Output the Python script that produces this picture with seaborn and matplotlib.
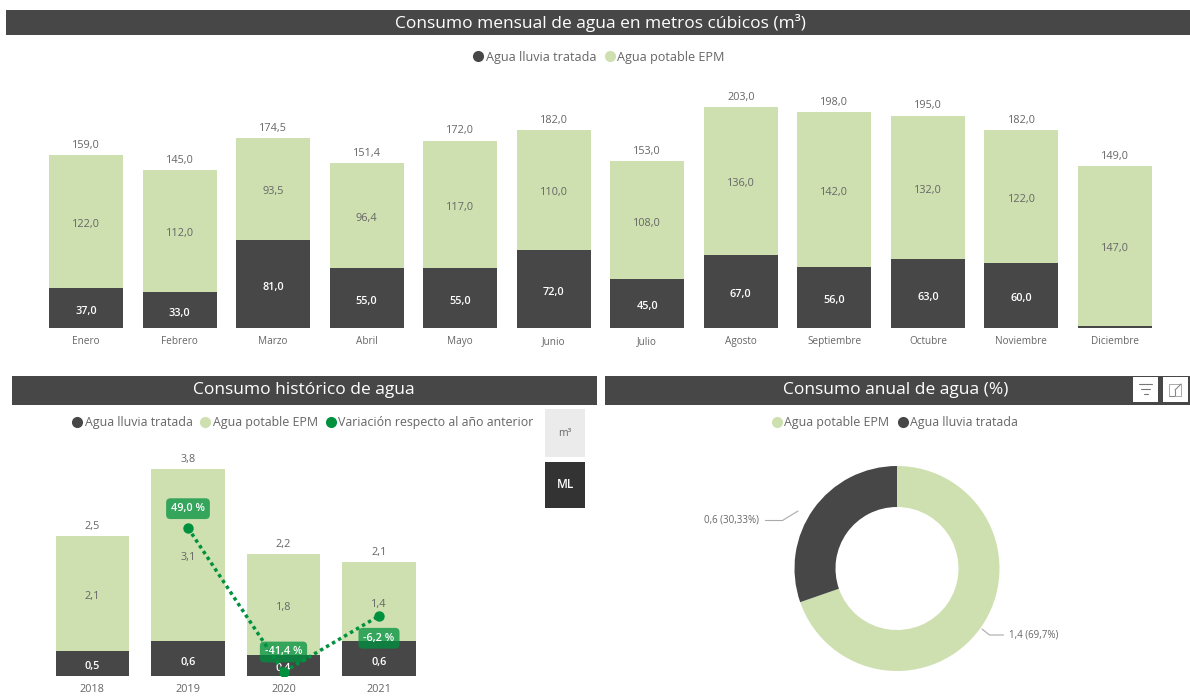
import numpy as np
import pandas as pd
import seaborn as sns
import matplotlib
matplotlib.use("Agg")
import matplotlib.pyplot as plt
from matplotlib.lines import Line2D
from matplotlib.patches import Rectangle

meses = ["Enero", "Febrero", "Marzo", "Abril", "Mayo", "Junio", "Julio", "Agosto",
         "Septiembre", "Octubre", "Noviembre", "Diciembre"]
lluvia_mes = [37.0, 33.0, 81.0, 55.0, 55.0, 72.0, 45.0, 67.0, 56.0, 63.0, 60.0, 2.0]
potable_mes = [122.0, 112.0, 93.5, 96.4, 117.0, 110.0, 108.0, 136.0, 142.0, 132.0, 122.0, 147.0]
anios = ["2018", "2019", "2020", "2021"]
lluvia_anio = [0.46, 0.63, 0.38, 0.63]
potable_anio = [2.08, 3.14, 1.84, 1.44]
variacion = [np.nan, 49.0, -41.4, -6.2]
dona_nombres = ["Agua potable EPM", "Agua lluvia tratada"]
dona_valores = [1.4, 0.6]
dona_pct = [69.67, 30.33]

DARK, LIGHT, GREEN, GREY = "#474747", "#CEE0B0", "#00913F", "#666666"
W, H = 1190, 696

sns.set_theme(style="white")
plt.rcParams["font.family"] = ["Open Sans", "DejaVu Sans"]

fig = plt.figure(figsize=(W / 100, H / 100), dpi=100, facecolor="white")


def rect(x0, y0, x1, y1):
    return [x0 / W, 1 - y1 / H, (x1 - x0) / W, (y1 - y0) / H]


def coma(v):
    return f"{v:.1f}".replace(".", ",")


# capa de pixeles para cabeceras, botones, lineas guia
bg = fig.add_axes([0, 0, 1, 1], zorder=0)
bg.set_xlim(0, W)
bg.set_ylim(H, 0)
bg.axis("off")


def header(x0, y0, x1, y1, text, cx, size):
    bg.add_patch(Rectangle((x0, y0), x1 - x0, y1 - y0, color=DARK, lw=0))
    bg.text(cx, (y0 + y1) / 2, text, color="white", fontsize=size, ha="center", va="center")


header(6, 10, 1190, 35, "Consumo mensual de agua en metros cúbicos (m³)", 600, 12.5)
header(12, 376, 597, 405, "Consumo histórico de agua", 304, 12.5)
header(604.5, 376, 1190, 405, "Consumo anual de agua (%)", 896, 12.5)


def stacked(ax, cats, low, high, width, tick_size, size):
    low, high = np.array(low), np.array(high)
    df = pd.DataFrame({"cat": cats, "low": low, "high": high, "total": low + high})
    sns.barplot(data=df, x="cat", y="total", color=LIGHT, saturation=1, width=width, ax=ax,
                zorder=2, linewidth=0, edgecolor="none")
    sns.barplot(data=df, x="cat", y="low", color=DARK, saturation=1, width=width, ax=ax,
                zorder=2, linewidth=0, edgecolor="none")
    sns.despine(ax=ax, left=True, bottom=True)
    ax.set_xlabel("")
    ax.set_ylabel("")
    ax.set_yticks([])
    ax.set_xlim(-0.5, len(cats) - 0.5)
    ax.patch.set_alpha(0)
    ax.tick_params(axis="x", length=0, pad=6, labelsize=tick_size, labelcolor=GREY)
    for i, r in df.iterrows():
        ax.annotate(coma(r.total), (i, r.total), xytext=(0, 8.0), textcoords="offset points",
                    ha="center", va="center_baseline", fontsize=size, color=GREY, zorder=6)
        ax.annotate(coma(r.high), (i, r.low + r.high / 2), xytext=(0, -1), textcoords="offset points",
                    ha="center", va="center_baseline", fontsize=size, color=GREY, zorder=6)
        if r.low > 0.2 if r.total < 10 else r.low > 10:
            ax.annotate(coma(r.low), (i, r.low / 2), xytext=(0, -1.4), textcoords="offset points",
                        ha="center", va="center_baseline", fontsize=size, color="white", zorder=6,
                        fontweight="semibold")


# grafico mensual
ax1 = fig.add_axes(rect(39.25, 80, 1161.75, 328), zorder=2)
stacked(ax1, meses, lluvia_mes, potable_mes, 0.79, 7.2, 7.8)
ax1.set_ylim(0, 248 / 1.0895)

# grafico historico
ax2 = fig.add_axes(rect(44.75, 440, 426.75, 676), zorder=2)
stacked(ax2, anios, lluvia_anio, potable_anio, 0.765, 7.8, 7.8)
ax2.set_ylim(0, 236 / 55)

ax3 = fig.add_axes(rect(44.75, 440, 426.75, 676), zorder=3)
ax3.patch.set_alpha(0)
var_df = pd.DataFrame({"pos": range(len(anios)), "var": variacion})
sns.lineplot(data=var_df, x="pos", y="var", color=GREEN, lw=2.5, linestyle=(0, (1, 1)),
             marker="o", markersize=7.5, markeredgewidth=0, ax=ax3, zorder=4)
ax3.set_xlim(-0.5, 3.5)
ax3.set_ylim(49 - (676 - 528) / 1.593, 49 + (528 - 440) / 1.593)
ax3.axis("off")
for pos, v, dy in zip(var_df["pos"], variacion, [0, 15, 15.5, -15]):
    if not np.isnan(v):
        ax3.annotate(f"{coma(v)} %", (pos, v), xytext=(0, dy), textcoords="offset points",
                     ha="center", va="center_baseline", fontsize=7.8, color="white", fontweight="semibold",
                     zorder=7,
                     bbox=dict(boxstyle="round,pad=0.45,rounding_size=0.4", fc=GREEN, ec="none", alpha=0.75))

# selector de unidades
bg.add_patch(Rectangle((545, 409), 40, 48, color="#EBEBEB", lw=0))
bg.text(565, 433, "m³", color=GREY, fontsize=7.5, ha="center", va="center")
bg.add_patch(Rectangle((545, 462), 40, 46, color="#333333", lw=0))
bg.text(565, 485, "ML", color="white", fontsize=8.5, ha="center", va="center", fontweight="semibold")

# botones
for x0 in (1132.5, 1162.5):
    bg.add_patch(Rectangle((x0, 377), 25.5, 25, color="white", lw=0, zorder=3))
for xa, xb, y in ((1139, 1152, 384), (1141, 1150, 389), (1143.5, 1147.5, 394)):
    bg.plot([xa, xb], [y, y], color="#777777", lw=0.8, zorder=4)
bg.plot([1169, 1175, 1175], [396, 396, 390], color="#888888", lw=0.8, zorder=4)
bg.plot([1169, 1169, 1175], [396, 384, 384], color="#AAAAAA", lw=0.7, zorder=4)
bg.plot([1175, 1181, 1181, 1175], [384, 384, 396, 396], color="#AAAAAA", lw=0.7, zorder=4)
bg.plot([1175, 1181], [390, 384], color="#888888", lw=0.8, zorder=4)

# dona
ax4 = fig.add_axes(rect(794.5, 466, 999.5, 671), zorder=2)
ax4.pie(dona_pct, colors=[LIGHT, DARK], startangle=90, counterclock=False, radius=1,
        wedgeprops=dict(width=0.4, lw=0))
ax4.set_xlim(-1, 1)
ax4.set_ylim(-1, 1)
ax4.set_aspect("auto")
bg.plot([765.5, 782.5, 798], [520.5, 520.5, 511], color="#AAAAAA", lw=0.8)
bg.plot([982, 989.5, 1003.5], [629, 635, 635], color="#AAAAAA", lw=0.8)
bg.text(732, 520.5, f"{coma(dona_valores[1])} ({dona_pct[1]:.2f}%)".replace("30.33", "30,33"),
        fontsize=7.0, color=GREY, ha="center", va="center")
bg.text(1034, 635, f"{coma(dona_valores[0])} (69,7%)", fontsize=7.0, color=GREY, ha="center", va="center")


# leyendas
def legend(names, cols, cx, cy, size):
    hs = [Line2D([], [], ls="", marker="o", ms=8, mew=0, color=c) for c in cols]
    fig.legend(hs, names, loc="center", bbox_to_anchor=(cx / W, 1 - cy / H), ncol=len(names), frameon=False,
               fontsize=size, labelcolor=GREY, handletextpad=0.05, columnspacing=0.5, borderpad=0, handlelength=1.1)


legend(["Agua lluvia tratada", "Agua potable EPM"], [DARK, LIGHT], 598, 57, 9.1)
legend(["Agua lluvia tratada", "Agua potable EPM", "Variación respecto al año anterior"], [DARK, LIGHT, GREEN], 302, 422.5, 8.9)
legend(dona_nombres, [LIGHT, DARK], 894, 422.5, 8.9)

fig.savefig("out.png", dpi=100, facecolor="white")
